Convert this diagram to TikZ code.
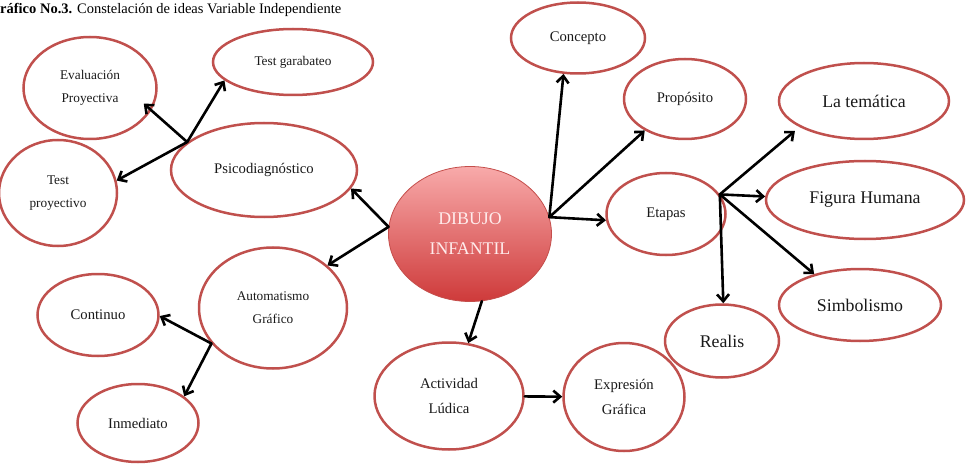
\documentclass[tikz,border=0pt]{standalone}
\usepackage{fontspec}
\setmainfont{Liberation Serif}
\usetikzlibrary{shapes.geometric,arrows.meta}

\definecolor{borderojo}{RGB}{192,80,77}
\definecolor{dibujoarriba}{RGB}{248,170,170}
\definecolor{dibujoabajo}{RGB}{206,58,58}
\definecolor{dibujoborde}{RGB}{196,78,75}
\definecolor{dibujotexto}{RGB}{255,236,236}

\begin{document}
\begin{tikzpicture}[x=1pt,y=-1pt,
    idea/.style={ellipse, draw=borderojo, line width=2.5pt, inner sep=0pt, align=center, text=black!90},
    chica/.style={font=\fontsize{13.3}{23}\selectfont},
    media/.style={font=\fontsize{14.7}{25.5}\selectfont},
    grande/.style={font=\fontsize{17.8}{30}\selectfont},
    flecha/.style={line width=2.6pt, line cap=round, -{Straight Barb[length=7pt,width=12pt]}}]

  \useasboundingbox (0,0) rectangle (970,468);

  % titulo (la G queda cortada)
  \node[anchor=base west, inner sep=0pt, font=\fontsize{14.5}{17}\selectfont] (titulo) at (-11.3,14)
    {\textbf{Gráfico No.3.} Constelación de ideas Variable Independiente};

  % nodo central
  \node[ellipse, minimum width=163pt, minimum height=135pt, inner sep=0pt, align=center,
        draw=dibujoborde, line width=0.8pt, top color=dibujoarriba, bottom color=dibujoabajo,
        text=dibujotexto, grande] (dibujo) at (470,234) {DIBUJO\\INFANTIL};

  % rama izquierda
  \node[idea, chica, minimum width=133pt, minimum height=102pt] (eval) at (90,88) {Evaluación\\Proyectiva};
  \node[idea, chica, minimum width=160pt, minimum height=66pt] (garabateo) at (293,62) {Test garabateo};
  \node[idea, chica, minimum width=118pt, minimum height=106pt] (tproy) at (58,193) {Test\\proyectivo};
  \node[idea, media, minimum width=186pt, minimum height=94pt] (psico) at (264,170) {Psicodiagnóstico};
  \node[idea, chica, minimum width=148pt, minimum height=121pt] (auto) at (273,308) {Automatismo\\Gráfico};
  \node[idea, media, minimum width=121pt, minimum height=82pt] (continuo) at (98,315) {Continuo};
  \node[idea, media, minimum width=121pt, minimum height=78pt] (inmediato) at (138,423) {Inmediato};

  % rama inferior
  \node[idea, media, minimum width=149pt, minimum height=107pt] (actividad) at (449,396) {Actividad\\Lúdica};
  \node[idea, media, minimum width=121pt, minimum height=108pt] (expresion) at (624,397) {Expresión\\Gráfica};

  % rama derecha
  \node[idea, media, minimum width=134pt, minimum height=71pt] (concepto) at (578,38) {Concepto};
  \node[idea, media, minimum width=122pt, minimum height=80pt] (proposito) at (685,99) {Propósito};
  \node[idea, media, minimum width=119pt, minimum height=82pt] (etapas) at (666,214) {Etapas};
  \node[idea, grande, minimum width=170pt, minimum height=76pt] (tematica) at (864,101) {La temática};
  \node[idea, grande, minimum width=198pt, minimum height=78pt] (figura) at (865,200) {Figura Humana};
  \node[idea, grande, minimum width=162pt, minimum height=72pt] (simbolismo) at (860,305) {Simbolismo};
  \node[idea, grande, minimum width=114pt, minimum height=73pt] (realis) at (722,341) {Realis};

  % puntos de salida
  \coordinate (jPsico) at (psico.160);
  \coordinate (jAuto) at (auto.210);
  \coordinate (jDibujo) at (dibujo.12);
  \coordinate (jEtapas) at (etapas.20);

  \draw[flecha] (jPsico) -- (garabateo.195);
  \draw[flecha, shorten >=-10pt] (jPsico) -- (eval.-20);
  \draw[flecha] (jPsico) -- (tproy.12);
  \draw[flecha] (dibujo.175) -- (psico.-12);
  \draw[flecha] (dibujo.175) -- (auto.38);
  \draw[flecha] (jAuto) -- (continuo.-1);
  \draw[flecha] (jAuto) -- (inmediato.30);
  \draw[flecha] (dibujo.-80) -- (actividad.70);
  \draw[flecha] (actividad) -- (expresion);
  \draw[flecha] (jDibujo) -- (concepto.248);
  \draw[flecha] (jDibujo) -- (proposito.218);
  \draw[flecha] (jDibujo) -- (etapas.186);
  \draw[flecha, shorten >=6pt] (jEtapas) -- (tematica.202);
  \draw[flecha] (jEtapas) -- (figura.178);
  \draw[flecha] (jEtapas) -- (simbolismo.146);
  \draw[flecha] (jEtapas) -- (realis.88);

\end{tikzpicture}
\end{document}
